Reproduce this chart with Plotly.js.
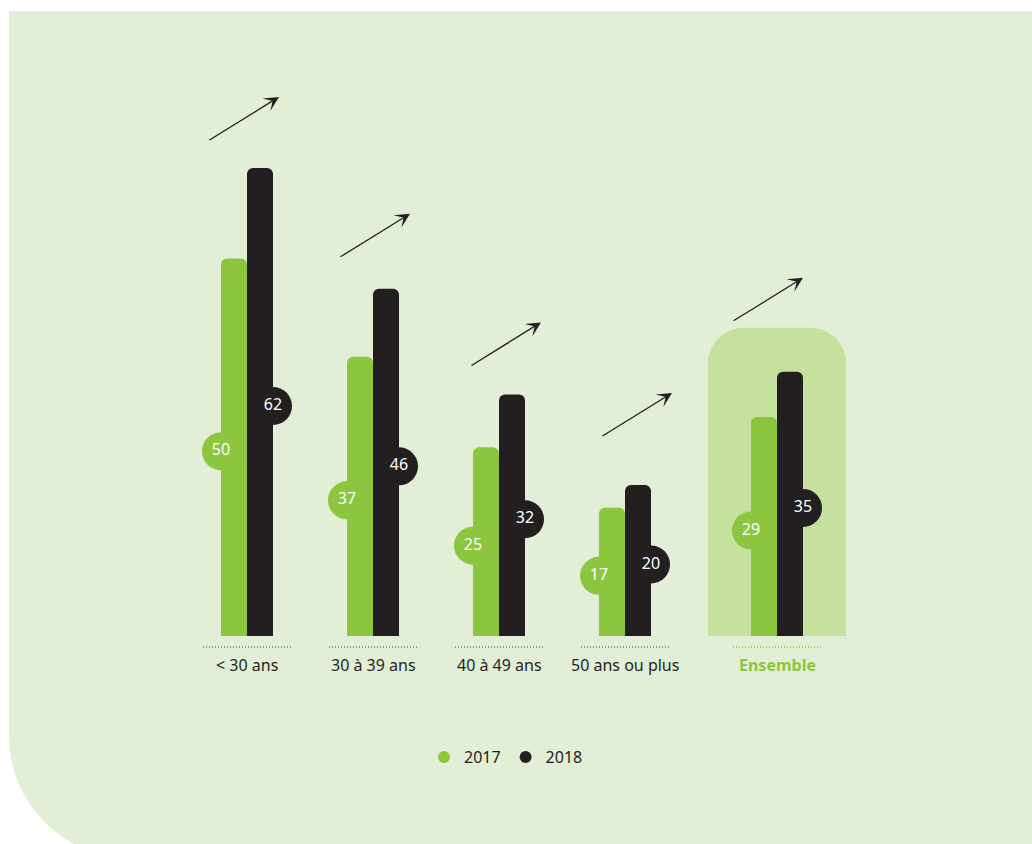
<!DOCTYPE html>
<html>
<head>
<meta charset="utf-8">
<script src="https://cdn.plot.ly/plotly-3.0.1.min.js"></script>
<style>
  html, body { margin:0; padding:0; background:#ffffff; overflow:hidden; width:1032px; height:844px; }
  #panel { position:absolute; left:9px; top:11px; width:1023px; height:847px; background:#e2efd6; border-bottom-left-radius:122px; }
  #chart { position:absolute; left:0; top:0; width:1032px; height:844px; }
</style>
</head>
<body>
<div id="panel"></div>
<div id="chart"></div>
<script>
// ---- data ----
const categories = ['< 30 ans', '30 à 39 ans', '40 à 49 ans', '50 ans ou plus', 'Ensemble'];
const v2017 = [50, 37, 25, 17, 29];
const v2018 = [62, 46, 32, 20, 35];
const seriesNames = ['2017', '2018'];

// ---- styling / layout helpers ----
const GREEN = '#8cc63f', BLACK = '#231f20', TEXT = '#231f20';
const FONT = 'Noto Sans, Open Sans, sans-serif';
const W = 1032, H = 844;
const X0PX = 247, PX_PER_CAT = 126;          // horizontal scale
const BASEPX = 636, PX_PER_UNIT = 7.55;      // vertical scale
const BW = 26 / PX_PER_CAT;                  // bar width in category units
const ENS = categories.length - 1;
const xc = categories.map((c, i) => i + (i === ENS ? BW : 0));
const pxX = p => p / PX_PER_CAT;
const pxY = p => p / PX_PER_UNIT;
const labelY = v => v / 2 - pxY(4);          // value bubbles sit at mid-height of each bar

const traces = [
  { type:'bar', x: xc, y: v2017, width: BW, offset: -BW, name: seriesNames[0],
    marker:{ color: GREEN, cornerradius: 6, line:{width:0} }, showlegend:false, hoverinfo:'skip' },
  { type:'bar', x: xc, y: v2018, width: BW, offset: 0, name: seriesNames[1],
    marker:{ color: BLACK, cornerradius: 6, line:{width:0} }, showlegend:false, hoverinfo:'skip' },
  { type:'scatter', mode:'markers', x: xc.map(x => x - BW), y: v2017.map(labelY), name: seriesNames[0],
    marker:{ color: GREEN, size: 38, line:{width:0} }, hoverinfo:'skip', cliponaxis:false },
  { type:'scatter', mode:'markers', x: xc.map(x => x + BW), y: v2018.map(labelY), name: seriesNames[1],
    marker:{ color: BLACK, size: 38, line:{width:0} }, hoverinfo:'skip', cliponaxis:false },
  { type:'scatter', mode:'text', x: xc.map(x => x - BW), y: v2017.map(labelY), text: v2017.map(String),
    textfont:{ color:'#ffffff', size:16, family: FONT }, showlegend:false, hoverinfo:'skip', cliponaxis:false },
  { type:'scatter', mode:'text', x: xc.map(x => x + BW), y: v2018.map(labelY), text: v2018.map(String),
    textfont:{ color:'#ffffff', size:16, family: FONT }, showlegend:false, hoverinfo:'skip', cliponaxis:false }
];

// highlight box behind "Ensemble"
const hx0 = xc[ENS] - pxX(69), hx1 = xc[ENS] + pxX(69);
const htop = v2018[ENS] + pxY(44);
const rx = pxX(36), ry = pxY(36), k = 0.5523;
const boxPath = `M${hx0},0 L${hx0},${htop - ry} C${hx0},${htop - ry + k*ry} ${hx0 + rx - k*rx},${htop} ${hx0 + rx},${htop} ` +
  `L${hx1 - rx},${htop} C${hx1 - rx + k*rx},${htop} ${hx1},${htop - ry + k*ry} ${hx1},${htop - ry} L${hx1},0 Z`;

const shapes = [
  { type:'path', xref:'x', yref:'y', path: boxPath, fillcolor:'#c6e09e', line:{width:0}, layer:'below' }
];
categories.forEach((c, i) => {
  shapes.push({ type:'line', xref:'x', yref:'y', x0: xc[i] - pxX(44), x1: xc[i] + pxX(45),
    y0: -pxY(11), y1: -pxY(11), line:{ color: i === ENS ? GREEN : '#7a7a7a', width:1.5, dash:'1px,2px' }, layer:'below' });
});

const annotations = [];
categories.forEach((c, i) => {
  annotations.push({ xref:'x', yref:'y', x: xc[i], y: 0, yshift: -29, yanchor:'middle', xanchor:'center',
    text: i === ENS ? '<b>' + c + '</b>' : c, showarrow:false,
    font:{ family: FONT, size:16, color: i === ENS ? GREEN : TEXT } });
});
// trend arrows above each group (evenly spaced, 131 px apart)
const arrowLift = [27, 31, 28, 48, 50];
const ARROW_STEP = 131 / PX_PER_CAT;
categories.forEach((c, i) => {
  annotations.push({ xref:'x', yref:'y', x: pxX(32) + i * ARROW_STEP, y: v2018[i], yshift: arrowLift[i] + 44,
    text:' ', font:{size:1}, showarrow:true, ax:-71, ay:44, axref:'pixel', ayref:'pixel',
    arrowhead:3, arrowsize:1.9, arrowwidth:1.3, arrowcolor: BLACK, standoff:0, startstandoff:0 });
});

const layout = {
  width: W, height: H,
  margin:{ l:0, r:0, t:0, b:0, pad:0 },
  paper_bgcolor:'rgba(0,0,0,0)', plot_bgcolor:'rgba(0,0,0,0)',
  barmode:'overlay',
  xaxis:{ visible:false, range:[-X0PX / PX_PER_CAT, (W - X0PX) / PX_PER_CAT], fixedrange:true },
  yaxis:{ visible:false, range:[-(H - BASEPX) / PX_PER_UNIT, BASEPX / PX_PER_UNIT], fixedrange:true },
  showlegend:true,
  legend:{ orientation:'h', x: 506 / W, xanchor:'center', y: 1 - 757 / H, yanchor:'middle',
    font:{ family: FONT, size:16, color: TEXT }, bgcolor:'rgba(0,0,0,0)', itemsizing:'constant',
    itemwidth:30, traceorder:'normal' },
  shapes, annotations,
  font:{ family: FONT }
};

Plotly.newPlot('chart', traces, layout, { displayModeBar:false, staticPlot:true });
</script>
</body>
</html>
